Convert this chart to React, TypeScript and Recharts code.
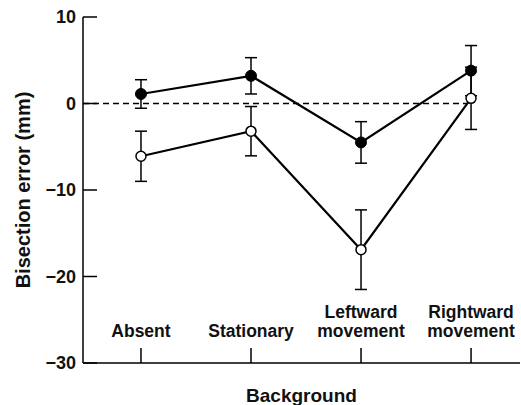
import {
    ComposedChart,
    Line,
    XAxis,
    YAxis,
    ErrorBar,
    ReferenceLine,
} from 'recharts';

// categories of background, with the lines as printed under each tick
const categories = ['Absent', 'Stationary', 'Leftward movement', 'Rightward movement'];
const categoryLines = [['Absent'], ['Stationary'], ['Leftward', 'movement'], ['Rightward', 'movement']];

// filled circles
const filledMeans = [1.1, 3.2, -4.5, 3.8];
const filledErrs = [1.65, 2.1, 2.4, 2.9];

// open circles
const openMeans = [-6.1, -3.2, -16.9, 0.6];
const openErrs = [2.9, 2.85, 4.6, 3.6];

const yTicks = [-30, -20, -10, 0, 10];
const xTicks = [1, 2, 3, 4];
const xDomain = [0.473, 4.445];

const FONT = '"Liberation Sans", Arial, sans-serif';

const data = categories.map((name, i) => ({
    x: i + 1,
    name,
    filled: filledMeans[i],
    filledErr: filledErrs[i],
    open: openMeans[i],
    openErr: openErrs[i],
}));

const XTick = ({ x, y, payload }: any) => {
    const lines = categoryLines[payload.value - 1] || [];
    return (
        <g>
            <line x1={x} y1={y} x2={x} y2={y - 15} stroke="#000" strokeWidth={1.5} />
            {lines.map((t, i) => (
                <text
                    key={t}
                    x={x}
                    y={y - 26 - (lines.length - 1 - i) * 19}
                    textAnchor="middle"
                    fontFamily={FONT}
                    fontWeight="bold"
                    fontSize={17.5}
                    fill="#111"
                >
                    {t}
                </text>
            ))}
        </g>
    );
};

const YTick = ({ x, y, payload }: any) => {
    const v = payload.value;
    const label = v < 0 ? `\u2212${Math.abs(v)}` : `${v}`;
    return (
        <g>
            <line x1={x} y1={y} x2={x + 14} y2={y} stroke="#000" strokeWidth={1.5} />
            <text
                x={x - 7}
                y={y}
                dy={6}
                textAnchor="end"
                fontFamily={FONT}
                fontWeight="bold"
                fontSize={18}
                fill="#111"
            >
                {label}
            </text>
        </g>
    );
};

const YLabel = ({ viewBox }: any) => {
    const cx = viewBox.x + 23;
    const cy = viewBox.y + viewBox.height / 2;
    return (
        <text
            x={cx}
            y={cy}
            dy={7}
            transform={`rotate(-90, ${cx}, ${cy})`}
            textAnchor="middle"
            fontFamily={FONT}
            fontWeight="bold"
            fontSize={20}
            fill="#111"
        >
            Bisection error (mm)
        </text>
    );
};

const XLabel = ({ viewBox }: any) => (
    <text
        x={viewBox.x + viewBox.width / 2}
        y={viewBox.y + 39}
        textAnchor="middle"
        fontFamily={FONT}
        fontWeight="bold"
        fontSize={19}
        fill="#111"
    >
        Background
    </text>
);

export default function App() {
    return (
        <div style={{ position: 'absolute', left: 0, top: 0, background: '#fff' }}>
            <ComposedChart
                width={521}
                height={405}
                data={data}
                margin={{ top: 17, right: 1, bottom: 0, left: 0 }}
            >
                <XAxis
                    type="number"
                    dataKey="x"
                    domain={xDomain}
                    ticks={xTicks}
                    height={42}
                    tickSize={0}
                    tickMargin={0}
                    tickLine={false}
                    tick={<XTick />}
                    axisLine={{ stroke: '#000', strokeWidth: 1.5 }}
                    label={(props: any) => <XLabel {...props} />}
                />
                <YAxis
                    type="number"
                    domain={[-30, 10]}
                    ticks={yTicks}
                    width={83}
                    tickSize={0}
                    tickMargin={0}
                    tickLine={false}
                    tick={<YTick />}
                    axisLine={{ stroke: '#000', strokeWidth: 1.5 }}
                    label={(props: any) => <YLabel {...props} />}
                />
                <ReferenceLine
                    segment={[{ x: xDomain[0], y: 0 }, { x: 3.96, y: 0 }]}
                    stroke="#000"
                    strokeWidth={1.5}
                    strokeDasharray="6 4"
                />
                <Line
                    dataKey="filled"
                    type="linear"
                    stroke="#000"
                    strokeWidth={2.2}
                    dot={{ r: 5.5, fill: '#000', stroke: '#000', strokeWidth: 1 }}
                    activeDot={false}
                    isAnimationActive={false}
                >
                    <ErrorBar dataKey="filledErr" direction="y" width={6} stroke="#000" strokeWidth={1.5} isAnimationActive={false} />
                </Line>
                <Line
                    dataKey="open"
                    type="linear"
                    stroke="#000"
                    strokeWidth={2.2}
                    dot={{ r: 5, fill: '#fff', stroke: '#000', strokeWidth: 1.5 }}
                    activeDot={false}
                    isAnimationActive={false}
                >
                    <ErrorBar dataKey="openErr" direction="y" width={6} stroke="#000" strokeWidth={1.5} isAnimationActive={false} />
                </Line>
            </ComposedChart>
        </div>
    );
}
